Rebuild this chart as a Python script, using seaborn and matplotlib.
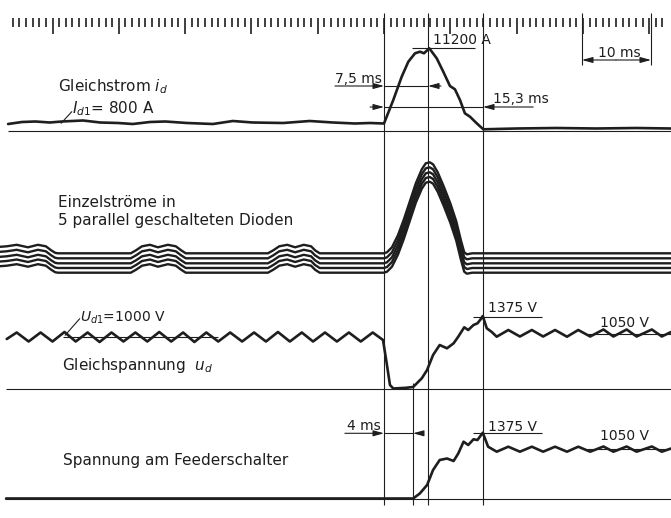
import numpy as np
import pandas as pd
import seaborn as sns
import matplotlib.pyplot as plt

# oscillogram: time in ms from fault inception, deflection of each trace above its own zero line

# Gleichstrom i_d
id_t = [-56.7, -54.6, -52.6, -50.4, -48.6, -45.4, -42.8, -40.1, -37.9, -35.3,
        -33.0, -29.7, -25.8, -22.8, -19.8, -15.2, -11.2, -7.7, -4.4, -2.1,
        0.0, 1.4, 2.67, 3.67, 4.68, 5.43, 6.03, 6.83, 7.95, 8.94,
        9.95, 10.7, 11.46, 12.2, 12.97, 13.98, 14.98, 20.0, 26.0, 32.0, 38.0, 43.3]
id_d = [6.5, 8.5, 9, 8, 9, 10, 8, 7.5, 6.5, 8.5,
        9, 7.5, 6.5, 9.5, 8, 7.5, 9.5, 8, 7, 7.5,
        7, 30.5, 53.8, 68.8, 77.2, 78.8, 77.2, 82.2, 72.2, 58.8,
        44.5, 41.2, 30.5, 17.2, 13.8, 7.2, 1.2, 2.0, 2.5, 2.0, 2.5, 2.0]

# Einzelstroeme der 5 Dioden (common trace shape, offset per diode)
diode_t = [-57.9, -56.9, -55.4, -53.7, -52.2, -51.0, -50.2, -49.6, -49.2,
           -38.2, -37.4, -36.5, -35.3, -34.1, -32.6, -31.4, -30.6, -29.9,
           -17.5, -16.7, -15.8, -14.6, -13.4, -12.1, -11.0, -10.4, -9.7,
           0.0, 0.45, 1.2, 2.1, 3.0, 3.9, 4.8, 5.7, 6.3, 6.9,
           7.4, 8.1, 9.0, 10.0, 10.9, 11.6, 12.1, 12.5, 13.3, 43.3]
diode_d = [6.5, 7, 8.5, 6, 8.5, 7, 3, 0.5, 0,
           0, 3, 7, 8.5, 6, 8.5, 7, 3, 0,
           0, 3, 7, 8.5, 6, 8.5, 7, 3, 0,
           0, 1, 6, 18, 34, 52, 70, 84, 90, 91,
           89, 81, 67, 50, 32, 13, 1, -1, 0, 0]
diode_offset = [0, -5, -10, -14.7, -19.4]

# Gleichspannung u_d
ud_t = [-56.9, -55.4, -53.6, -51.8, -50.0, -48.2, -46.5, -44.7, -42.9, -41.1,
        -39.3, -37.5, -35.7, -33.9, -32.1, -30.3, -28.6, -26.8, -25.0, -23.2,
        -21.4, -19.6, -17.8, -16.0, -14.2, -12.4, -10.7, -8.9, -7.1, -5.3,
        -3.5, -1.7,
        -0.15, 0.4, 0.9, 1.4, 3.3, 4.4, 5.7, 6.5, 7.4, 8.4,
        9.5, 10.5, 11.2, 12.1, 12.7, 13.5, 14.1, 14.5, 14.9, 15.5, 16.2,
        17.0, 18.75, 20.5, 22.3, 24.0, 25.8, 27.6, 29.3, 31.1, 33.1,
        34.6, 36.6, 38.1, 40.4, 41.9, 43.3]
ud_d = [50, 56.5, 47.5, 56.5, 47.5, 57, 47.5, 56.5, 47, 56.5,
        47.5, 56.5, 47.5, 57, 47.5, 56.5, 47, 56.5, 47.5, 56.5,
        47.5, 56.5, 47.5, 57, 47.5, 56.5, 47.5, 56.5, 47.5, 56.5,
        47.5, 56.5,
        49, 26, 4, 0.5, 1.2, 2, 10.7, 19, 34, 44,
        40.7, 45.7, 52.3, 61.7, 59, 64, 65.7, 69, 73, 60.7, 57.3,
        52.3, 59, 52.5, 59, 52.5, 59, 52.3, 59, 52.5, 59.5,
        52.5, 59.5, 52.5, 59.5, 52.5, 57]

# Spannung am Feederschalter
fs_t = [-57.0, 4.4, 5.4, 6.5, 7.4, 8.4, 9.5, 10.5, 11.2, 12.0,
        12.7, 13.5, 14.1, 14.9, 15.7, 17.0, 18.75, 20.5, 22.3, 24.0,
        25.8, 27.6, 29.3, 31.1, 33.1, 34.6, 36.6, 38.1, 40.4, 41.9, 43.3]
fs_d = [0, 0, 5, 13.5, 28.5, 38.5, 40, 37.5, 45, 56.8,
        53.5, 59.2, 58.5, 65.8, 51.8, 46.8, 51.8, 46.8, 51.8, 46.8,
        51.8, 46.8, 51.8, 46.8, 52, 46.8, 52, 46.8, 52, 46.8, 50]

# cursor lines (ms)
t_fault, t_peak, t_end, t_4ms = 0.0, 6.64, 14.93, 4.37

sns.set_style("white")
plt.rcParams["font.family"] = ["DejaVu Sans"]
plt.rcParams["mathtext.fontset"] = "dejavusans"
ink = "#1e1e1e"

px_ms = 6.63
t0, t1 = -384 / px_ms, 287 / px_ms
base_id, base_diode, base_ud, base_fs = 387.5, 264.7, 129.0, 19.5

fig = plt.figure(figsize=(6.71, 5.18), dpi=100)
ax = fig.add_axes([0, 0, 1, 1])


def frame(t, d, base):
    return pd.DataFrame({"t": t, "y": base + np.array(d, dtype=float)})


kw = dict(x="t", y="y", sort=False, estimator=None, color=ink, ax=ax,
          solid_joinstyle="round", solid_capstyle="round")
sns.lineplot(data=frame(id_t, id_d, base_id), lw=1.9, **kw)
sns.lineplot(data=frame(ud_t, ud_d, base_ud), lw=1.9, **kw)
sns.lineplot(data=frame(fs_t, fs_d, base_fs), lw=1.9, **kw)

diodes = pd.concat([frame(diode_t, diode_d, base_diode + off).assign(diode=k)
                    for k, off in enumerate(diode_offset)])
sns.lineplot(data=diodes, units="diode", lw=1.7, **kw)

# timing marks every 1 ms, long ones every 10 ms
marks = np.arange(-56, 43)
ax.vlines(marks[marks % 10 != 0], 491, 500, color=ink, lw=1.2)
ax.vlines(marks[marks % 10 == 0], 484, 500, color=ink, lw=1.2)

thin = dict(color=ink, lw=0.8)
ax.vlines([t_fault, t_peak, t_end], 13, 505, **thin)
ax.vlines(t_4ms, 13, 135, **thin)
ax.hlines(base_id, -56.7, t1, **thin)
ax.hlines(base_ud, -57.0, t1, **thin)
ax.hlines(base_fs, -57.2, t1, **thin)
ax.hlines(base_ud + 52, -48.4, -25.1, **thin)
ax.hlines([base_ud + 55.5, base_fs + 49.5], 30.6, t1, **thin)
ax.hlines([base_ud + 72.3, base_fs + 65.8], 13.4, 23.8, **thin)
ax.hlines(470.3, 4.22, 13.7, **thin)


def arrow(tip, tail):
    ax.annotate("", xy=tip, xytext=tail,
                arrowprops=dict(arrowstyle="-|>,head_length=0.8,head_width=0.22",
                                color=ink, lw=0.8, mutation_scale=8, shrinkA=0, shrinkB=0))


# 7,5 ms
ax.hlines(432, t_fault, t_peak, **thin)
arrow((t_fault, 432), (-7.4, 432))
arrow((t_peak, 432), (8.6, 432))
# 15,3 ms
ax.hlines(411, t_fault, t_end, **thin)
arrow((t_fault, 411), (-2.1, 411))
arrow((t_end, 411), (22.5, 411))
# 4 ms
ax.hlines(84.7, t_fault, t_4ms, **thin)
arrow((t_fault, 84.7), (-5.9, 84.7))
arrow((t_4ms, 84.7), (5.9, 84.7))
# 10 ms scale
ax.vlines([29.86, 40.27], 453, 505, **thin)
arrow((29.86, 458), (35.0, 458))
arrow((40.27, 458), (35.0, 458))

# leaders
ax.plot([-48.7, -47.1], [394.7, 406.3], **thin)
ax.plot([-48.1, -45.9], [182.7, 199.3], **thin)

lab = dict(color=ink, fontsize=11, va="baseline", ha="left")
num = dict(color=ink, fontsize=10, va="baseline", ha="left")
ax.text(-49.2, 426.3, "Gleichstrom $i_d$", **lab)
ax.text(-47.1, 404.7, "$I_{d1}$= 800 A", **lab)
ax.text(-49.2, 311.3, "Einzelströme in", **lab)
ax.text(-49.2, 293.0, "5 parallel geschalteten Dioden", **lab)
ax.text(-45.9, 196.3, "$U_{d1}$=1000 V", **num)
ax.text(-48.6, 148.0, "Gleichspannung  $u_d$", **lab)
ax.text(-48.4, 53.0, "Spannung am Feederschalter", **lab)
ax.text(7.39, 473.7, "11200 A", **num)
ax.text(-7.39, 434.7, "7,5 ms", **num)
ax.text(16.44, 414.7, "15,3 ms", **num)
ax.text(32.28, 460.7, "10 ms", **num)
ax.text(15.69, 206.0, "1375 V", **num)
ax.text(15.69, 87.3, "1375 V", **num)
ax.text(32.58, 191.3, "1050 V", **num)
ax.text(32.58, 78.0, "1050 V", **num)
ax.text(-5.58, 88.0, "4 ms", **num)

ax.set_xlim(t0, t1)
ax.set_ylim(0, 518)
ax.axis("off")
fig.savefig("out.png", dpi=100)
